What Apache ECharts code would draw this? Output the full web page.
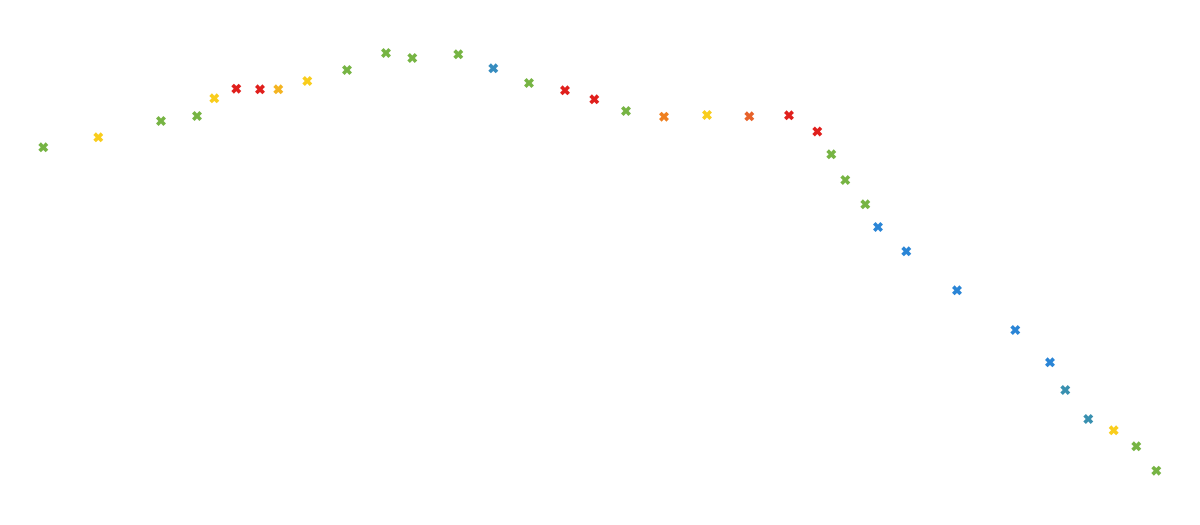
<!DOCTYPE html>
<html>
<head>
<meta charset="utf-8">
<script src="https://cdn.jsdelivr.net/npm/echarts@6/dist/echarts.min.js"></script>
<style>html,body{margin:0;padding:0;background:#fff;}#c{width:1200px;height:525px;}</style>
</head>
<body>
<div id="c"></div>
<script>
const xValues = [4.33, 9.83, 16.1, 19.7, 21.43, 23.63, 26.0, 27.83, 30.73, 34.7, 38.6, 41.23, 45.83, 49.33, 52.9, 56.5, 59.43, 62.6, 66.4, 70.7, 74.93, 78.9, 81.73, 83.13, 84.53, 86.53, 87.8, 90.63, 95.7, 101.53, 105.0, 106.53, 108.83, 111.37, 113.63, 115.63];
const yValues = [75.54, 77.54, 80.8, 81.8, 85.34, 87.26, 87.14, 87.14, 88.8, 91.0, 94.4, 93.4, 94.14, 91.34, 88.4, 86.94, 85.14, 82.8, 81.66, 82.0, 81.74, 81.94, 78.7, 74.14, 69.0, 64.14, 59.6, 54.74, 46.94, 39.0, 32.54, 27.0, 21.2, 18.94, 15.74, 10.86];
const colorKeys = ['green','yellow','green','green','yellow','red','red','amber','yellow','green','green','green','green','steel','green','red','red','green','orange','yellow','darkorange','red','red','green','green','green','blue','blue','blue','blue','blue','teal','teal','yellow','green','green'];
const palette = {green:'#76b443', yellow:'#f9cd1c', amber:'#f4b421', red:'#e01f1c', orange:'#ef8020', darkorange:'#e7622a', blue:'#2a85d6', steel:'#368cbf', teal:'#3990b0'};

const chart = echarts.init(document.getElementById('c'));
const data = xValues.map((x, i) => ({value: [x, yValues[i]], itemStyle: {color: palette[colorKeys[i]], opacity: 1}}));
chart.setOption({
  animation: false,
  grid: {left: 0, right: 0, top: 0, bottom: 0},
  xAxis: {type: 'value', min: 0, max: 120, show: false},
  yAxis: {type: 'value', min: 0, max: 105, show: false},
  series: [{
    type: 'scatter',
    symbol: 'path://M0,2.6 L2.6,0 L5,2.4 L7.4,0 L10,2.6 L7.6,5 L10,7.4 L7.4,10 L5,7.6 L2.6,10 L0,7.4 L2.4,5 Z',
    symbolSize: 10,
    itemStyle: {opacity: 1},
    data: data
  }]
});
</script>
</body>
</html>
